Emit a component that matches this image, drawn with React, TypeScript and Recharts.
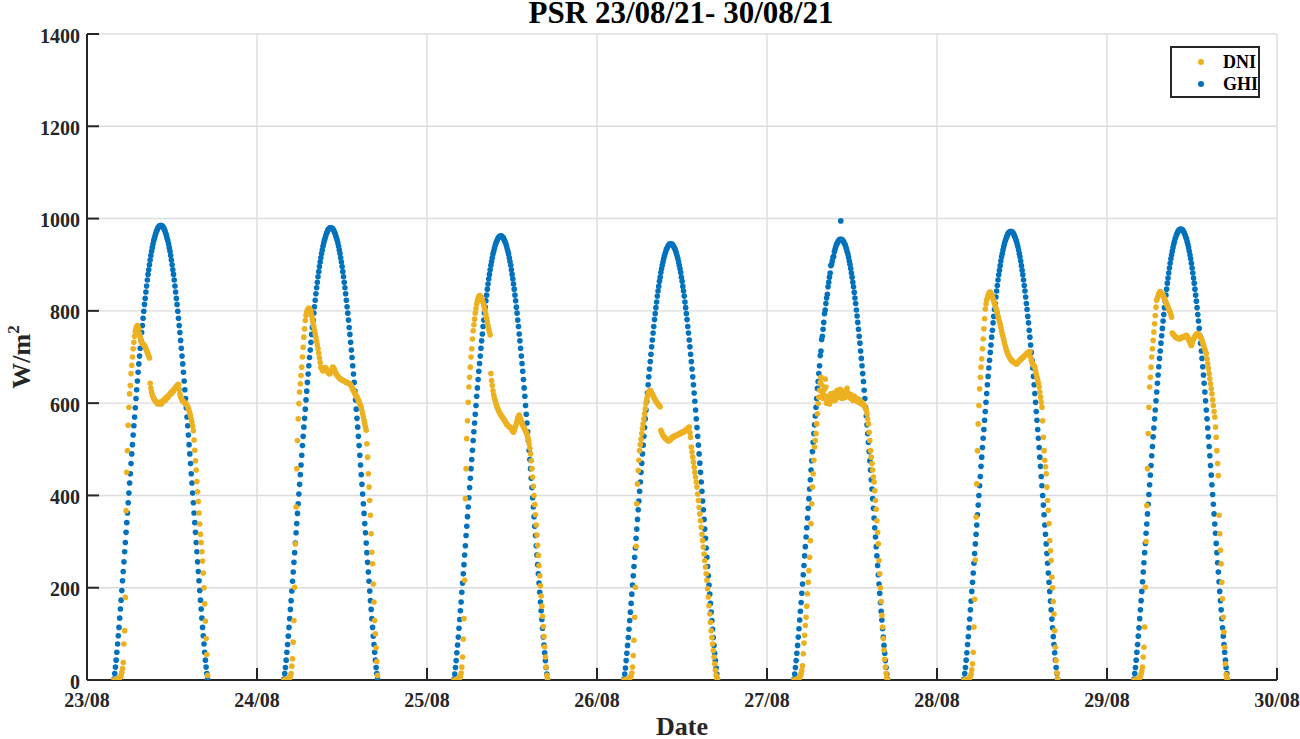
import React from 'react';
import { ScatterChart, Scatter, XAxis, YAxis, CartesianGrid, Legend } from 'recharts';

// x axis: days counted from 23/08 00:00
const DATE_TICKS = [0, 1, 2, 3, 4, 5, 6, 7];
const DATE_LABELS = ['23/08', '24/08', '25/08', '26/08', '27/08', '28/08', '29/08', '30/08'];
const Y_TICKS = [0, 200, 400, 600, 800, 1000, 1200, 1400];

// logger clock: first reading of each day (~03:49) and one reading every 6 min
const FIRST_SAMPLE = 0.159;
const SAMPLE_STEP = 6 / 1440;

const SERIES_NAMES = ['DNI', 'GHI'];
const SERIES_COLORS = ['#EDB120', '#0072BD'];

// GHI, W/m2, one array per day
const GHI_2308 = [2,14,28,43,60,78,96,114,134,154,173,194,215,235,256,278,298,320,341,362,384,405,427,447,469,490,510,531,551,570,590,610,629,648,667,685,702,719,736,753,768,784,799,814,827,841,854,867,879,889,900,910,920,929,937,945,952,957,963,968,973,976,980,982,984,985,985,
  985,984,982,980,976,973,968,963,957,952,945,937,929,920,910,900,889,879,867,854,841,827,814,799,784,768,753,736,719,702,685,667,648,629,610,590,570,551,531,510,490,469,447,427,405,384,362,341,320,298,278,256,235,215,194,173,154,134,114,96,78,60,43,28,14,2];
const GHI_2408 = [2,14,27,43,60,77,95,114,133,153,172,193,214,234,255,276,297,319,339,361,382,403,424,445,466,487,508,528,548,567,587,607,626,645,663,681,699,715,732,749,764,780,795,809,823,837,850,862,874,885,896,906,915,924,932,940,947,953,958,963,968,971,975,977,979,980,980,
  980,979,977,975,971,968,963,958,953,947,940,932,924,915,906,896,885,874,862,850,837,823,809,795,780,764,749,732,715,699,681,663,645,626,607,587,567,548,528,508,487,466,445,424,403,382,361,339,319,297,276,255,234,214,193,172,153,133,114,95,77,60,43,27,14,2];
const GHI_2508 = [2,13,27,42,59,76,93,112,131,150,169,190,210,230,250,271,291,313,333,354,375,395,417,437,458,478,498,519,538,557,576,595,615,633,651,669,686,702,719,735,750,766,780,795,808,822,834,847,858,869,879,889,899,907,915,923,929,935,941,946,950,953,957,959,961,962,962,
  962,961,959,957,953,950,946,941,935,929,923,915,907,899,889,879,869,858,847,834,822,808,795,780,766,750,735,719,702,686,669,651,633,615,595,576,557,538,519,498,478,458,437,417,395,375,354,333,313,291,271,250,230,210,190,169,150,131,112,93,76,59,42,27,13,2];
const GHI_2608 = [2,13,26,42,58,75,92,110,129,147,166,186,206,226,246,266,286,307,327,348,369,388,409,429,450,470,490,509,528,547,566,585,604,622,640,657,674,690,706,722,737,752,766,781,794,807,819,832,843,853,864,873,883,891,899,906,913,919,924,929,934,936,940,942,944,945,945,
  945,944,942,940,936,934,929,924,919,913,906,899,891,883,873,864,853,843,832,819,807,794,781,766,752,737,722,706,690,674,657,640,622,604,585,566,547,528,509,490,470,450,429,409,388,369,348,327,307,286,266,246,226,206,186,166,147,129,110,92,75,58,42,26,13,2];
const GHI_2708 = [2,13,27,42,58,75,93,111,130,149,168,188,208,228,248,269,289,310,330,351,372,393,414,434,455,475,495,515,534,553,572,591,610,632,647,664,681,703,713,738,745,760,775,794,802,816,828,836,852,862,873,882,898,901,908,916,918,928,934,939,944,946,950,952,954,955,995,
  955,954,952,950,946,944,939,934,928,923,916,908,901,892,882,873,862,852,840,828,816,802,789,775,760,745,730,713,697,681,664,647,628,610,591,572,553,534,515,495,475,455,434,414,393,372,351,330,310,289,269,248,228,208,188,168,149,130,111,93,75,58,42,27,13,2];
const GHI_2808 = [2,14,27,43,59,77,94,113,132,152,171,192,212,232,253,274,295,316,336,358,379,400,421,441,463,483,504,524,543,563,582,602,621,640,658,676,693,710,726,743,758,774,788,803,816,830,843,855,867,878,888,898,908,917,924,932,939,945,951,955,960,963,967,969,971,972,972,
  972,971,969,967,963,960,955,951,945,939,932,924,917,908,898,888,878,867,855,843,830,816,803,788,774,758,743,726,710,693,676,658,640,621,602,582,563,543,524,504,483,463,441,421,400,379,358,336,316,295,274,253,232,212,192,171,152,132,113,94,77,59,43,27,14,2];
const GHI_2908 = [2,14,27,43,60,77,95,113,133,152,172,192,213,234,254,276,296,318,338,360,381,402,423,444,465,486,506,527,546,566,585,605,624,643,661,679,697,713,730,746,762,778,792,807,821,834,847,860,871,882,893,903,913,921,929,937,944,950,956,960,965,968,972,974,976,977,977,
  977,976,974,972,968,965,960,956,950,944,937,929,921,913,903,893,882,871,860,847,834,821,807,792,778,762,746,730,713,697,679,661,643,624,605,585,566,546,527,506,486,465,444,423,402,381,360,338,318,296,276,254,234,213,192,172,152,133,113,95,77,60,43,27,14,2];

// DNI, W/m2, one array per day
const DNI_2308 = [0,0,1,1,2,2,3,4,5,7,10,16,25,38,
  78,107,179,367,450,497,552,591,620,638,664,682,700,718,732,745,755,761,766,768,
  765,760,750,742,735,731,729,728,727,724,722,718,714,710,706,702,698,
  643,632,624,618,614,610,608,605,604,602,600,598,601,599,600,
  603,598,602,605,604,608,610,607,612,614,612,616,618,620,622,620,625,627,626,630,632,634,636,638,640,641,
  630,620,614,610,607,605,603,602,600,599,598,596,592,588,583,578,572,565,558,550,540,520,498,475,455,430,408,387,362,338,316,298,278,258,232,200,165,128,90,55,10];
const DNI_2408 = [0,0,0,1,1,2,3,4,5,8,14,30,
  46,82,129,201,295,375,458,519,566,599,624,642,660,678,700,721,743,761,779,790,797,802,804,806,805,
  802,797,790,782,774,766,758,750,742,734,726,718,708,698,688,678,
  675,672,670,671,674,677,676,673,670,667,665,663,665,668,671,675,678,676,673,669,665,662,660,658,656,655,
  653,652,651,650,649,649,648,647,646,645,645,644,643,642,642,640,637,633,630,627,624,621,618,615,613,610,606,603,599,595,590,584,577,570,563,555,548,541,
  512,483,447,418,389,357,317,277,252,208,169,129,100,70,40,10];
const DNI_2508 = [0,0,0,1,1,2,2,3,5,8,15,28,
  50,89,133,216,393,458,523,562,602,635,656,678,700,718,739,757,770,782,795,805,815,822,828,831,833,832,
  830,826,822,818,812,806,800,792,784,776,768,760,754,748,
  664,649,638,627,618,611,606,600,596,591,587,583,580,577,575,572,570,568,566,563,561,558,555,553,552,550,549,548,546,544,541,539,537,
  541,546,551,556,562,567,571,574,570,565,560,556,552,549,546,543,540,536,532,526,520,512,502,490,475,458,440,420,400,380,358,336,314,292,270,248,226,204,182,160,138,116,94,72,50,28,10,2];
const DNI_2608 = [0,0,0,1,1,1,2,3,4,6,9,15,
  28,53,86,136,201,290,382,425,454,476,497,510,522,534,545,555,566,577,588,599,608,615,620,624,627,628,
  625,622,619,616,613,610,607,604,602,600,598,596,594,592,
  541,537,533,530,528,526,524,523,522,520,519,518,519,520,522,524,526,527,526,528,529,530,531,530,532,533,534,533,535,536,537,538,537,539,540,541,542,544,545,547,548,
  536,526,505,494,483,472,461,450,440,429,418,403,389,374,360,345,331,316,302,288,273,259,245,230,216,198,180,161,143,125,107,92,78,64,50,35,21,10,4,1];
const DNI_2708 = [0,0,0,1,1,2,3,4,6,9,14,21,31,
  57,80,97,118,136,160,187,212,237,266,302,339,382,418,447,476,505,519,534,555,577,599,613,
  628,645,656,640,622,610,618,630,652,635,600,608,615,603,598,610,620,612,605,615,622,610,606,614,620,628,618,612,624,630,622,615,610,618,626,620,612,618,625,632,622,615,620,614,610,618,612,606,610,615,612,608,605,610,606,602,608,604,600,603,598,600,596,594,592,
  588,585,577,566,555,537,519,497,483,469,455,440,429,410,389,370,345,320,295,259,230,200,170,140,115,90,65,45,28,14,5,1];
const DNI_2808 = [0,0,0,1,1,2,2,3,5,8,13,22,35,
  60,115,175,260,353,425,497,555,595,631,656,678,696,718,739,761,783,804,815,823,828,833,837,840,841,
  838,834,830,826,821,816,811,806,801,795,789,783,777,771,764,757,750,744,738,731,725,719,714,710,706,703,700,697,695,693,691,690,689,688,687,686,685,686,688,690,692,693,695,696,698,699,700,702,703,705,707,708,709,710,711,711,
  700,693,688,685,682,680,678,670,663,656,650,643,635,624,613,602,591,562,526,497,476,462,447,418,389,368,339,302,280,259,223,200,170,143,107,71,42,15,3];
const DNI_2908 = [0,0,0,1,1,2,2,3,5,8,13,20,28,
  50,71,115,201,300,378,458,534,591,635,656,678,700,718,736,754,772,790,808,823,828,833,837,840,842,
  840,838,835,833,830,826,822,819,815,811,808,804,800,797,792,786,
  752,750,748,746,745,743,742,741,740,740,739,740,741,742,743,744,743,744,745,746,747,745,742,738,735,731,727,725,730,735,739,742,745,747,749,750,751,750,748,745,742,740,736,731,726,721,
  716,711,707,696,685,675,664,653,642,631,620,607,595,582,570,548,526,
  497,469,443,357,317,281,252,212,176,136,104,71,35,12,4,1];

const GHI_DAYS = [GHI_2308, GHI_2408, GHI_2508, GHI_2608, GHI_2708, GHI_2808, GHI_2908];
const DNI_DAYS = [DNI_2308, DNI_2408, DNI_2508, DNI_2608, DNI_2708, DNI_2808, DNI_2908];

const FONT = '"Liberation Serif", "Times New Roman", serif';
const INK = '#262626';

// plot box (MATLAB style, ticks pointing inwards)
const BOX = { left: 87, right: 1277, top: 34, bottom: 680 };
const TICK_LEN = 12;

function toPoints(days: number[][]) {
  const pts: { t: number; v: number }[] = [];
  days.forEach((vals, d) => {
    vals.forEach((v, j) => pts.push({ t: d + FIRST_SAMPLE + j * SAMPLE_STEP, v }));
  });
  return pts;
}

const dniPoints = toPoints(DNI_DAYS);
const ghiPoints = toPoints(GHI_DAYS);

const dot = (color: string) => (props: any) => (
  <circle cx={props.cx} cy={props.cy} r={2.8} fill={color} />
);

const lineStyle = { stroke: INK, strokeWidth: 2 };
const labelFont = { fontFamily: FONT, fontWeight: 'bold' as const, fill: INK };

const BottomTick = (props: any) => {
  const { x, y, payload } = props;
  return (
    <g>
      <line x1={x} x2={x} y1={BOX.bottom} y2={BOX.bottom - TICK_LEN} {...lineStyle} />
      <text x={x} y={y} dy={14} textAnchor="middle" fontSize={20} {...labelFont}>
        {DATE_LABELS[payload.index]}
      </text>
    </g>
  );
};

const TopTick = (props: any) => (
  <line x1={props.x} x2={props.x} y1={BOX.top} y2={BOX.top + TICK_LEN} {...lineStyle} />
);

const LeftTick = (props: any) => {
  const { x, y, payload } = props;
  return (
    <g>
      <line x1={BOX.left} x2={BOX.left + TICK_LEN} y1={y} y2={y} {...lineStyle} />
      <text x={x} y={y} dy={8.5} textAnchor="end" fontSize={20} {...labelFont}>
        {payload.value}
      </text>
    </g>
  );
};

const RightTick = (props: any) => (
  <line x1={BOX.right} x2={BOX.right - TICK_LEN} y1={props.y} y2={props.y} {...lineStyle} />
);

function LegendBox() {
  return (
    <div
      style={{
        width: 90, height: 52, boxSizing: 'border-box', border: `2px solid ${INK}`,
        background: '#fff', position: 'relative', fontFamily: FONT, fontWeight: 'bold',
        fontSize: 18, color: '#000',
      }}
    >
      {SERIES_NAMES.map((name, i) => (
        <div key={name} style={{ position: 'absolute', left: 0, top: 4 + i * 21.5, height: 20, width: 86 }}>
          <span
            style={{
              position: 'absolute', left: 26, top: 7, width: 6, height: 6,
              borderRadius: 3, background: SERIES_COLORS[i],
            }}
          />
          <span style={{ position: 'absolute', left: 51, top: 0, lineHeight: '20px' }}>{name}</span>
        </div>
      ))}
    </div>
  );
}

export default function App() {
  return (
    <div style={{ position: 'absolute', left: 0, top: 0, width: 1300, height: 739, background: '#fff' }}>
      <svg width={1300} height={40} style={{ position: 'absolute', left: 0, top: 0 }}>
        <text x={681} y={23} textAnchor="middle" fontFamily={FONT} fontWeight="bold" fontSize={31} fill="#000">
          PSR 23/08/21- 30/08/21
        </text>
      </svg>
      <div style={{ position: 'absolute', left: 0, top: 0 }}>
        <ScatterChart width={1300} height={739} margin={{ top: 34, right: 23, bottom: 0, left: 0 }}>
          <CartesianGrid stroke="#dcdcdc" strokeWidth={1.4} />
          <XAxis
            type="number"
            dataKey="t"
            domain={[0, 7]}
            ticks={DATE_TICKS}
            interval={0}
            height={59}
            tickSize={0}
            tickMargin={13}
            axisLine={lineStyle}
            tickLine={false}
            tick={BottomTick}
            allowDataOverflow
            label={{
              value: 'Date', position: 'insideBottom', offset: 4,
              style: { fill: INK, fontSize: 26, fontWeight: 'bold', fontFamily: FONT },
            }}
          />
          <XAxis
            xAxisId="top"
            orientation="top"
            type="number"
            domain={[0, 7]}
            ticks={DATE_TICKS}
            interval={0}
            height={0}
            tickSize={0}
            axisLine={lineStyle}
            tickLine={false}
            tick={TopTick}
          />
          <YAxis
            type="number"
            dataKey="v"
            domain={[0, 1400]}
            ticks={Y_TICKS}
            interval={0}
            width={87}
            tickSize={0}
            tickMargin={7}
            axisLine={lineStyle}
            tickLine={false}
            tick={LeftTick}
            allowDataOverflow
            label={{
              content: () => (
                <text
                  transform="translate(30 357) rotate(-90)"
                  textAnchor="middle"
                  fontFamily={FONT}
                  fontWeight="bold"
                  fontSize={26}
                  fill={INK}
                >
                  W/m<tspan dy={-11} fontSize={17}>2</tspan>
                </text>
              ),
            }}
          />
          <YAxis
            yAxisId="right"
            orientation="right"
            type="number"
            domain={[0, 1400]}
            ticks={Y_TICKS}
            interval={0}
            width={0}
            tickSize={0}
            axisLine={lineStyle}
            tickLine={false}
            tick={RightTick}
          />
          <Scatter
            name={SERIES_NAMES[1]}
            data={ghiPoints}
            fill={SERIES_COLORS[1]}
            shape={dot(SERIES_COLORS[1])}
            isAnimationActive={false}
          />
          <Scatter
            name={SERIES_NAMES[0]}
            data={dniPoints}
            fill={SERIES_COLORS[0]}
            shape={dot(SERIES_COLORS[0])}
            isAnimationActive={false}
          />
          <Legend
            layout="vertical"
            align="center"
            verticalAlign="middle"
            content={() => <LegendBox />}
            wrapperStyle={{ position: 'absolute', left: 1170, top: 46, width: 90, height: 52 }}
          />
        </ScatterChart>
      </div>
    </div>
  );
}
